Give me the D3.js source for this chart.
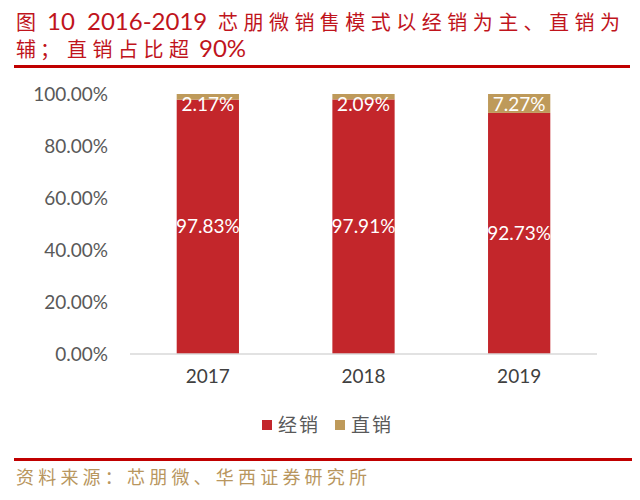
<!DOCTYPE html>
<html><head><meta charset="utf-8">
<script src="https://cdn.jsdelivr.net/npm/d3@7"></script>
<style>body{margin:0;background:#fff}svg{display:block}</style>
</head><body>
<svg id="c" width="640" height="500"></svg>
<script>
const titleLine1 = ["图", "10", "2016-2019", "芯朋微销售模式以经销为主、直销为"];
const titleLine2 = ["辅；", "直销占比超", "90%"];
const source = "资料来源：芯朋微、华西证券研究所";
const years = ["2017", "2018", "2019"];
const distribution = [0.9783, 0.9791, 0.9273]; // 经销
const direct = [0.0217, 0.0209, 0.0727];        // 直销
const seriesNames = ["经销", "直销"];
const yTicks = [0, 0.2, 0.4, 0.6, 0.8, 1.0];

const colors = ["#C3262B", "#BE9A5A"];
const svg = d3.select("#c");
const cjk = "'Noto Sans CJK SC', sans-serif";
const lat = "Lato, 'Noto Sans', sans-serif";

// Title
function titleLine(parts, yPos, specs) {
  const t = svg.append("text").attr("y", yPos).attr("fill", "#C0141C").attr("font-size", 20);
  parts.forEach((p, i) => {
    const s = specs[i];
    const ts = t.append("tspan").attr("x", s.x).attr("font-family", s.latin ? lat : cjk)
      .attr("font-size", s.latin ? 24 : 20).text(p);
    if (s.len) ts.attr("textLength", s.len).attr("lengthAdjust", "spacing");
  });
}
titleLine(titleLine1, 30, [{x: 16}, {x: 47, latin: true}, {x: 87, latin: true}, {x: 218, len: 402}]);
titleLine(titleLine2, 57, [{x: 16, len: 44}, {x: 67, len: 122}, {x: 199, latin: true}]);
svg.append("rect").attr("x", 14).attr("y", 65).attr("width", 616).attr("height", 3).attr("fill", "#C00000");

// Scales
const x = d3.scaleBand().domain(years).range([130, 597]).paddingInner(0.6).paddingOuter(0.3);
const y = d3.scaleLinear().domain([0, 1]).range([354, 94]);

// y axis labels
const yAxis = d3.axisLeft(y).tickValues(yTicks).tickFormat(d3.format(".2%")).tickSize(0).tickPadding(0);
const gy = svg.append("g").attr("transform", "translate(108,0)").call(yAxis);
gy.select(".domain").remove();
gy.selectAll("text").attr("font-family", lat).attr("font-size", 19).attr("fill", "#595959");

// stacked data
const rows = years.map((yr, i) => ({year: yr, "经销": distribution[i], "直销": direct[i]}));
const stack = d3.stack().keys(seriesNames)(rows);

const groups = svg.append("g").selectAll("g").data(stack).join("g").attr("fill", (d, i) => colors[i]);
groups.selectAll("rect").data(d => d).join("rect")
  .attr("x", d => x(d.data.year)).attr("width", x.bandwidth())
  .attr("y", d => y(d[1])).attr("height", d => y(d[0]) - y(d[1]));

// x axis
const xAxis = d3.axisBottom(x).tickSize(0).tickPadding(0);
const gx = svg.append("g").attr("transform", "translate(0,354)").call(xAxis);
gx.select(".domain").attr("stroke", "#D9D9D9").attr("stroke-width", 1.5).attr("d", "M130,0H597");
gx.selectAll("text").attr("font-family", lat).attr("font-size", 19).attr("fill", "#404040").attr("dy", "1.55em");

// value labels
stack.forEach((s, si) => {
  svg.append("g").selectAll("text").data(s).join("text")
    .attr("x", d => x(d.data.year) + x.bandwidth() / 2)
    .attr("y", d => Math.max((y(d[0]) + y(d[1])) / 2, y(1) + 10))
    .attr("dy", "0.35em").attr("text-anchor", "middle")
    .attr("font-family", lat).attr("font-size", 19).attr("fill", "#fff")
    .text(d => d3.format(".2%")(d[1] - d[0]));
});

// legend
const leg = svg.append("g").attr("transform", "translate(262,0)");
seriesNames.forEach((n, i) => {
  const ox = i * 73;
  leg.append("rect").attr("x", ox).attr("y", 420).attr("width", 10).attr("height", 10).attr("fill", colors[i]);
  leg.append("text").attr("x", ox + 16).attr("y", 432).attr("font-family", cjk).attr("font-size", 19)
    .attr("fill", "#595959").attr("textLength", 40).attr("lengthAdjust", "spacing").text(n);
});

// bottom line and source
svg.append("rect").attr("x", 14).attr("y", 458).attr("width", 618).attr("height", 3).attr("fill", "#C00000");
svg.append("text").attr("x", 16).attr("y", 484).attr("fill", "#B8965E")
  .attr("font-family", cjk).attr("font-size", 18)
  .attr("textLength", 351).attr("lengthAdjust", "spacing").text(source);
</script>
</body></html>
